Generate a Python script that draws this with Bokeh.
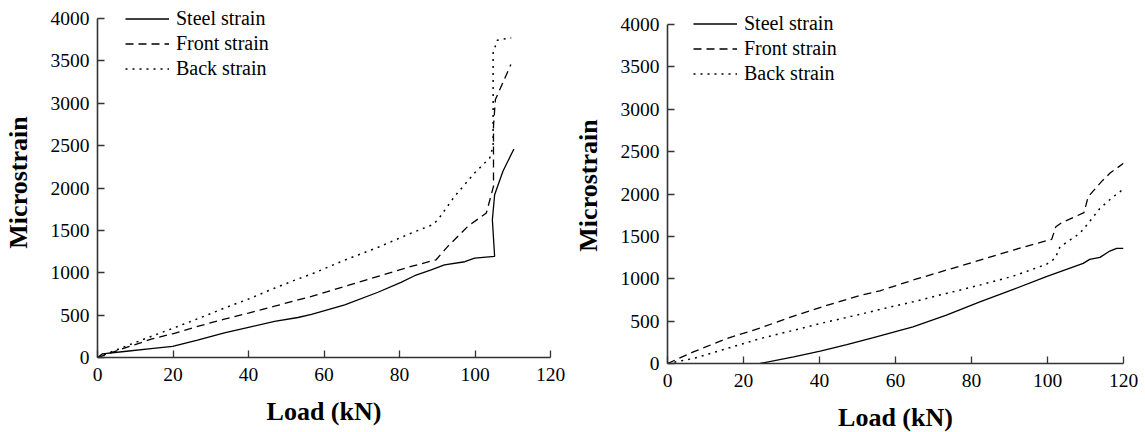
from bokeh.plotting import figure
from bokeh.models import Range1d, FixedTicker, Legend, LegendItem
from bokeh.layouts import row
from bokeh.embed import file_html
from bokeh.resources import INLINE

# ---- data: left panel ----
L_steel_x = [0, 1.3, 7.1, 14.2, 19.9, 26.5, 33.6, 40, 46.9, 53.1, 56.7, 65.5, 74.3, 80.4, 84, 88.4, 91.9, 97.3, 99.9, 105.2, 104.6, 105.2, 107.4, 110.3]
L_steel_y = [0, 43, 71, 105, 132, 205, 290, 355, 425, 472, 508, 622, 770, 886, 965, 1035, 1094, 1130, 1173, 1193, 1626, 1921, 2197, 2461]
L_front_x = [0, 7.1, 14.2, 19.9, 26.5, 33.6, 40, 46.9, 53.1, 56.7, 65.5, 74.3, 83.1, 89.7, 92.8, 98.1, 103, 104.9, 104.9, 105.4, 109.5]
L_front_y = [0, 110, 216, 280, 366, 453, 524, 605, 680, 720, 838, 956, 1075, 1153, 1311, 1547, 1705, 2020, 2728, 3043, 3457]
L_back_x = [0, 7, 14, 20, 27, 34, 40, 47, 53, 57, 65.5, 74.3, 83.1, 88.8, 90.2, 94.6, 99.9, 103.9, 104.8, 104.8, 105.9, 109.6]
L_back_y = [0, 125, 245, 345, 465, 590, 690, 820, 925, 990, 1150, 1300, 1468, 1567, 1626, 1902, 2177, 2354, 2492, 3594, 3744, 3772]

# ---- data: right panel ----
R_steel_x = [24.4, 33.2, 40.2, 47.2, 54.2, 61.2, 64.6, 73.4, 82.2, 91, 99.7, 105, 109.4, 111.1, 113.8, 116.4, 118.2, 120]
R_steel_y = [0, 78, 145, 223, 306, 392, 433, 571, 728, 874, 1024, 1110, 1181, 1228, 1252, 1327, 1358, 1358]
R_front_x = [0, 6.8, 15.6, 24.4, 33.2, 41.9, 50.7, 55.9, 64.6, 73.4, 82.2, 91, 101.1, 102.2, 103.7, 109.6, 110.7, 114.2, 116.4, 120]
R_front_y = [0, 137, 294, 419, 560, 686, 804, 858, 984, 1102, 1220, 1339, 1465, 1614, 1661, 1780, 1968, 2146, 2244, 2362]
R_back_x = [0, 6.8, 15.6, 24.4, 33.2, 41.9, 50.7, 55.9, 64.6, 73.4, 82.2, 91, 99.7, 102, 103.3, 108.5, 110.7, 113.8, 117.3, 119.9]
R_back_y = [0, 59, 176, 294, 392, 490, 580, 638, 728, 827, 925, 1031, 1170, 1240, 1378, 1535, 1654, 1831, 1968, 2055]

x_ticks = [0, 20, 40, 60, 80, 100, 120]
y_ticks = [0, 500, 1000, 1500, 2000, 2500, 3000, 3500, 4000]
series_names = ["Steel strain", "Front strain", "Back strain"]

FONT = "Liberation Serif"
Y_MAX = 4000


def make_panel(sx, sy, fx, fy, bx, by, borders, frame, legend_loc, x_std):
    mbl, mbr, mbt, mbb = borders
    fw, fh, axis_px = frame
    y_end = Y_MAX * fh / axis_px   # room above 4000 so the legend is not clipped
    p = figure(output_backend="svg", toolbar_location=None,
               frame_width=fw, frame_height=fh,
               min_border_left=mbl, min_border_right=mbr,
               min_border_top=mbt, min_border_bottom=mbb,
               x_range=Range1d(0, 120), y_range=Range1d(0, y_end),
               x_axis_label="Load (kN)", y_axis_label="Microstrain")
    p.outline_line_color = None
    p.grid.visible = False
    p.background_fill_color = "white"
    p.border_fill_color = "white"
    p.xaxis.ticker = FixedTicker(ticks=x_ticks)
    p.yaxis.ticker = FixedTicker(ticks=y_ticks)
    p.yaxis.bounds = (0, Y_MAX)
    for ax in (p.xaxis[0], p.yaxis[0]):
        ax.axis_line_color = "#333333"
        ax.axis_line_width = 1.6
        ax.major_tick_line_color = "#333333"
        ax.major_tick_line_width = 1.3
        ax.major_tick_in = 7
        ax.major_tick_out = 0
        ax.minor_tick_line_color = None
        ax.major_label_text_font = FONT
        ax.major_label_text_font_size = "19.5px"
        ax.major_label_text_color = "black"
        ax.axis_label_text_font = FONT
        ax.axis_label_text_font_size = "26px"
        ax.axis_label_text_font_style = "bold"
        ax.axis_label_text_color = "black"
    p.xaxis.major_label_standoff = x_std[0]
    p.yaxis.major_label_standoff = 8
    p.xaxis.axis_label_standoff = x_std[1]
    p.yaxis.axis_label_standoff = 15

    r1 = p.line(sx, sy, line_color="black", line_width=1.3)
    r2 = p.line(fx, fy, line_color="black", line_width=1.3, line_dash="8 5")
    r3 = p.line(bx, by, line_color="black", line_width=1.5, line_dash="2 5")

    leg = Legend(items=[LegendItem(label=series_names[0], renderers=[r1]),
                        LegendItem(label=series_names[1], renderers=[r2]),
                        LegendItem(label=series_names[2], renderers=[r3])],
                 location=legend_loc)
    leg.border_line_color = None
    leg.background_fill_alpha = 0
    leg.padding = 0
    leg.margin = 0
    leg.spacing = 2
    leg.glyph_width = 44
    leg.glyph_height = 23
    leg.label_height = 23
    leg.label_standoff = 7
    leg.label_text_font = FONT
    leg.label_text_font_size = "20px"
    leg.label_text_color = "black"
    p.add_layout(leg)
    return p


p1 = make_panel(L_steel_x, L_steel_y, L_front_x, L_front_y, L_back_x, L_back_y,
                (95, 20, 7, 60), (453, 350, 339), (28, 277), (10, 13))
p2 = make_panel(R_steel_x, R_steel_y, R_front_x, R_front_y, R_back_x, R_back_y,
                (92, 17, 7, 60), (456, 356, 339), (26, 278), (10, 13))

layout = row(p1, p2)
open("out.html", "w").write(file_html(layout, INLINE))
